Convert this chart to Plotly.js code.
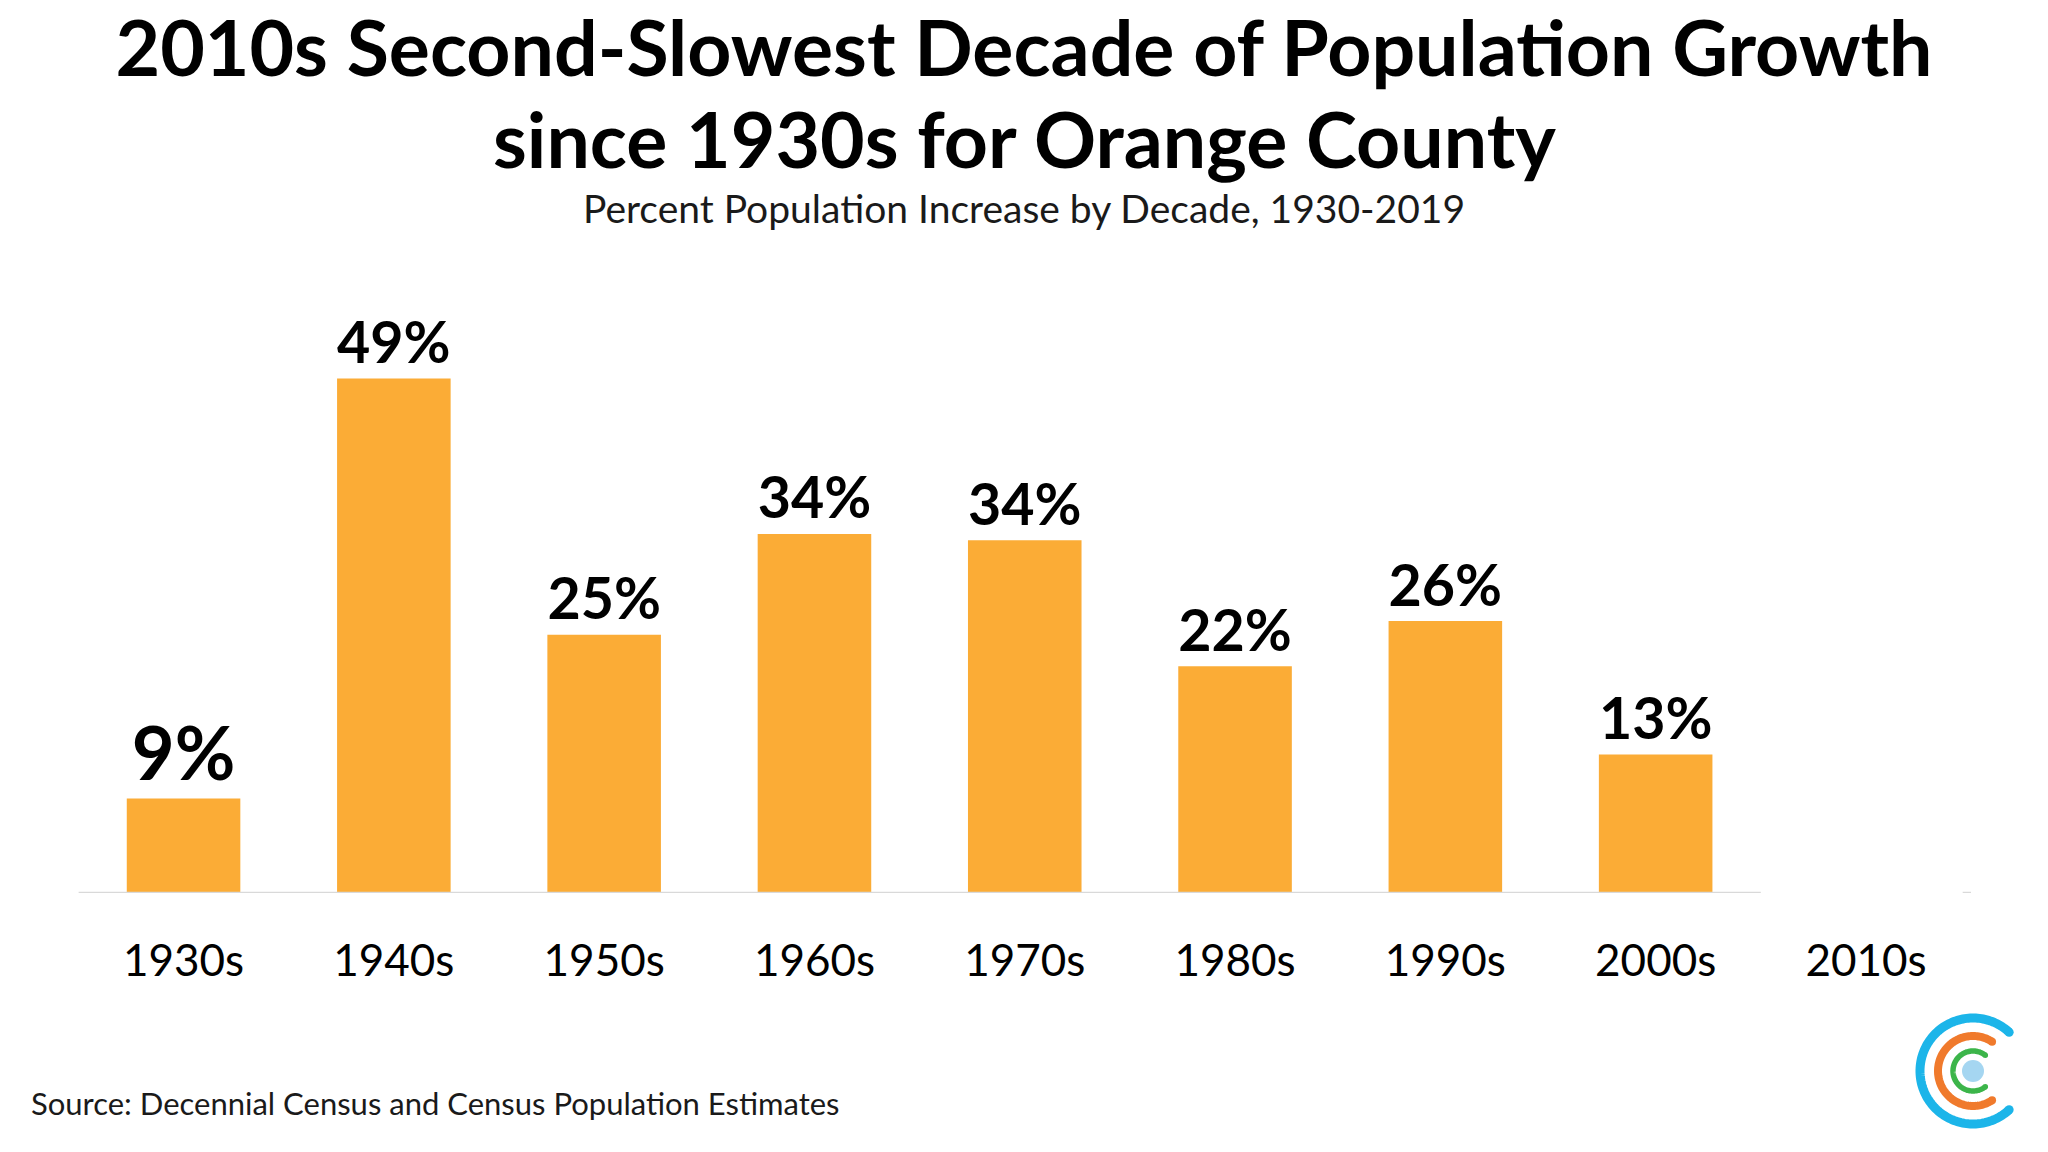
<!DOCTYPE html>
<html>
<head>
<meta charset="utf-8">
<script src="https://cdn.plot.ly/plotly-3.0.1.min.js"></script>
<style>
  html, body { margin: 0; padding: 0; background: #fff; }
  #chart { width: 2048px; height: 1152px; }
</style>
</head>
<body>
<div id="chart"></div>
<script>
// ---- Data ----
const decades = ['1930s', '1940s', '1950s', '1960s', '1970s', '1980s', '1990s', '2000s', '2010s'];
const growthPct = [9.0, 49.0, 24.6, 34.2, 33.6, 21.6, 25.9, 13.2, null];
const growthLabels = ['9%', '49%', '25%', '34%', '34%', '22%', '26%', '13%', ''];

const titleLine1 = '2010s Second-Slowest Decade of Population Growth';
const titleLine2 = 'since 1930s for Orange County';
const subtitleText = 'Percent Population Increase by Decade, 1930-2019';
const sourceText = 'Source: Decennial Census and Census Population Estimates';

// ---- Helpers (figure pixel -> paper, margins are zero) ----
const W = 2048, H = 1152;
const px = v => v / W;
const py = v => 1 - v / H;

function arcPath(cx, cy, r, a0, a1) {
  let d = '';
  const step = 2;
  for (let a = a0, i = 0; a <= a1 + 0.001; a += step, i++) {
    const t = a * Math.PI / 180;
    const x = cx + r * Math.cos(t);
    const y = cy - r * Math.sin(t);
    d += (i === 0 ? 'M' : 'L') + px(x).toFixed(5) + ',' + py(y).toFixed(5);
  }
  return d;
}
function capDot(cx, cy, r, a, w, color) {
  const t = a * Math.PI / 180;
  const x = cx + r * Math.cos(t), y = cy - r * Math.sin(t);
  return { type: 'circle', xref: 'paper', yref: 'paper',
    x0: px(x - w / 2), x1: px(x + w / 2), y0: py(y + w / 2), y1: py(y - w / 2),
    fillcolor: color, line: { width: 0 } };
}

const logoCx = 1973, logoCy = 1071;
const logoArcs = [
  { r: 53, a0: 47, a1: 313, w: 9, color: '#1CB5E9' },
  { r: 35, a0: 57, a1: 303, w: 8, color: '#F07A2C' },
  { r: 20, a0: 52, a1: 308, w: 5.5, color: '#3CB54A' }
];
const logoShapes = [];
logoArcs.forEach(a => {
  logoShapes.push({ type: 'path', xref: 'paper', yref: 'paper', path: arcPath(logoCx, logoCy, a.r, a.a0, a.a1),
    line: { color: a.color, width: a.w } });
  logoShapes.push(capDot(logoCx, logoCy, a.r, a.a0, a.w, a.color));
  logoShapes.push(capDot(logoCx, logoCy, a.r, a.a1, a.w, a.color));
});
logoShapes.push({ type: 'circle', xref: 'paper', yref: 'paper',
  x0: px(logoCx - 11), x1: px(logoCx + 11), y0: py(logoCy + 11), y1: py(logoCy - 11),
  fillcolor: '#A5D6F1', line: { width: 0 } });

const axisShapes = [
  { type: 'line', xref: 'x', yref: 'y', x0: -0.5, x1: 7.5, y0: 0, y1: 0, line: { color: '#D9D9D9', width: 2.5 } },
  { type: 'line', xref: 'x', yref: 'y', x0: 8.46, x1: 8.5, y0: 0, y1: 0, line: { color: '#D9D9D9', width: 2.5 } }
];

const titleFont = { family: 'Lato', size: 77, color: '#000000', weight: 700 };

const trace = {
  type: 'bar',
  x: decades,
  y: growthPct,
  text: growthLabels,
  texttemplate: '%{text}',
  marker: { color: '#FBAC36', line: { width: 0 } },
  textposition: 'outside',
  cliponaxis: false,
  textfont: { family: 'Lato', size: 74, color: '#000000', weight: 700 },
  hoverinfo: 'skip'
};

const layout = {
  width: W,
  height: H,
  margin: { l: 0, r: 0, t: 0, b: 0, pad: 0 },
  paper_bgcolor: '#ffffff',
  plot_bgcolor: '#ffffff',
  showlegend: false,
  bargap: 0.46,
  title: {
    text: titleLine1,
    x: 0.5,
    xanchor: 'center',
    yref: 'container',
    y: py(49),
    yanchor: 'middle',
    font: titleFont
  },
  xaxis: {
    type: 'category',
    domain: [78.4 / W, 1971.1 / W],
    range: [-0.5, 8.5],
    showline: false,
    showgrid: false,
    zeroline: false,
    ticks: '',
    ticklabelstandoff: 38,
    tickfont: { family: 'Lato', size: 44, color: '#000000' },
    fixedrange: true
  },
  yaxis: {
    domain: [(H - 893) / H, (H - 263) / H],
    range: [0, 60],
    visible: false,
    fixedrange: true
  },
  shapes: axisShapes.concat(logoShapes),
  annotations: [
    { text: titleLine2, xref: 'paper', yref: 'paper', x: 0.5, y: py(138), xanchor: 'center', yanchor: 'middle',
      showarrow: false, font: titleFont },
    { text: subtitleText, xref: 'paper', yref: 'paper', x: 0.5, y: py(208), xanchor: 'center', yanchor: 'middle',
      showarrow: false, font: { family: 'Lato', size: 39, color: '#1a1a1a' } },
    { text: sourceText, xref: 'paper', yref: 'paper', x: px(28.7), y: py(1103), xanchor: 'left', yanchor: 'middle',
      showarrow: false, font: { family: 'Lato', size: 31, color: '#1a1a1a' } }
  ]
};

Plotly.newPlot('chart', [trace], layout, { displayModeBar: false, responsive: false });
</script>
</body>
</html>
